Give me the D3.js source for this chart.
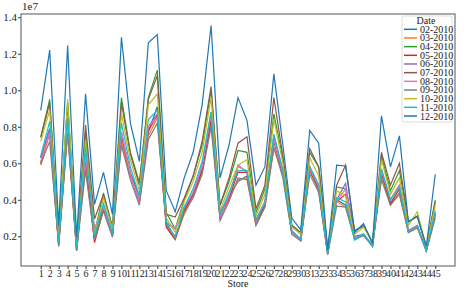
<!DOCTYPE html>
<html>
<head>
<meta charset="utf-8">
<script src="https://cdn.jsdelivr.net/npm/d3@7"></script>
<style>
  body { margin: 0; background: #fff; }
  text { font-family: "Liberation Serif", "DejaVu Serif", serif; fill: #222; }
</style>
</head>
<body>
<div id="canvas"></div>
<script>
"use strict"

/* Monthly sales per store (millions), one line per month */
let stores = [1,2,3,4,5,6,7,8,9,10,11,12,13,14,15,16,17,18,19,20,21,22,23,24,25,26,27,28,29,30,31,32,33,34,35,36,37,38,39,40,41,42,43,44,45];
let months = ["02-2010","03-2010","04-2010","05-2010","06-2010","07-2010","08-2010","09-2010","10-2010","11-2010","12-2010"];

let feb = [6.3,7.9,1.6,8.0,1.25,6.3,1.9,3.6,2.1,7.6,5.5,4.2,7.7,9.1,2.7,1.95,3.3,4.4,5.7,8.3,3.3,4.2,5.0,5.3,2.75,3.7,7.5,5.6,2.3,1.8,5.8,4.6,1.05,4.0,3.7,2.0,2.1,1.45,5.4,3.8,4.3,2.3,2.55,1.2,3.2];
let mar = [5.9,7.6,1.55,7.8,1.2,5.8,1.8,3.4,2.0,7.2,5.3,3.9,7.5,8.5,2.6,1.85,3.2,4.2,5.5,8.2,3.1,4.0,5.1,5.2,2.6,3.6,6.8,5.4,2.2,1.75,5.6,4.5,1.0,3.9,3.6,1.9,2.05,1.5,5.3,3.7,4.3,2.2,2.5,1.2,3.1];
let apr = [7.45,9.5,1.95,9.3,1.5,7.7,2.2,4.35,2.5,9.6,6.6,4.95,9.6,11.1,3.3,2.4,4.0,5.3,7.0,10.0,3.7,5.0,6.7,6.6,3.3,4.6,8.7,6.3,2.6,2.2,6.6,5.8,1.3,4.7,4.6,2.3,2.6,1.7,6.4,4.5,5.6,2.8,3.1,1.4,4.0];
let may = [6.0,7.8,1.45,7.9,1.25,6.3,1.65,3.5,2.05,7.5,5.4,3.9,7.8,8.6,2.5,1.82,3.4,4.3,5.6,8.4,3.0,4.1,5.5,5.5,2.8,3.7,7.2,5.4,2.2,1.8,5.6,4.6,1.1,3.9,4.3,1.85,2.1,1.5,5.5,3.8,4.6,2.3,2.6,1.2,3.2];
let jun = [6.3,7.9,1.65,8.1,1.3,6.5,2.4,3.6,2.1,7.7,5.4,3.9,8.0,8.7,2.7,2.4,3.5,4.4,5.9,8.8,3.1,4.2,5.9,5.5,2.9,3.9,7.4,5.5,2.2,1.8,5.8,4.8,1.05,4.0,4.9,1.9,2.1,1.45,5.6,4.0,4.8,2.3,2.55,1.25,3.3];
let jul = [7.4,9.3,1.95,9.3,1.45,8.1,2.95,4.3,2.5,9.3,6.5,4.8,9.5,10.8,3.2,3.05,4.1,5.3,7.2,10.2,3.7,5.2,7.1,7.45,3.5,4.8,9.6,6.4,2.6,2.2,6.8,5.8,1.3,4.8,5.9,2.3,2.55,1.65,6.6,4.8,6.0,2.8,3.1,1.45,3.9];
let aug = [6.1,7.7,1.6,8.1,1.25,6.4,2.4,3.6,2.1,7.7,5.4,3.9,8.0,8.5,2.8,2.45,3.6,4.4,5.8,8.7,3.0,4.2,5.8,5.6,2.8,3.9,7.3,5.5,2.2,1.8,5.7,4.7,1.1,3.9,4.6,1.9,2.1,1.5,5.6,4.0,4.8,2.3,2.55,1.25,3.3];
let sep = [5.95,7.2,1.5,7.6,1.2,5.6,1.8,3.4,1.95,7.0,5.1,3.7,7.3,8.2,2.6,2.0,3.3,4.1,5.4,8.0,2.85,3.9,5.2,5.1,2.6,3.6,6.9,5.2,2.1,1.75,5.4,4.4,1.0,3.65,3.6,1.8,2.05,1.45,5.1,3.7,4.4,2.2,2.45,1.2,3.0];
let oct = [7.2,8.9,1.85,9.5,1.4,7.3,2.1,4.1,2.4,8.7,6.2,4.5,9.2,9.8,3.0,2.2,3.9,5.0,6.6,9.6,3.4,4.7,5.9,6.2,3.1,4.3,8.4,6.0,2.5,2.1,6.3,5.3,1.25,4.5,4.2,2.1,2.5,1.7,6.2,4.3,5.2,2.6,3.35,1.4,3.7];
let nov = [6.4,8.3,1.65,8.5,1.35,6.9,2.0,3.8,2.2,8.2,5.8,4.2,8.4,8.9,2.8,1.9,3.6,4.6,6.1,8.8,3.2,4.4,5.6,5.6,2.9,3.8,7.6,5.6,2.3,1.85,5.8,4.8,1.05,4.1,3.9,1.8,2.15,1.5,5.7,4.0,4.7,2.3,2.6,1.2,3.4];
let dec = [8.9,12.2,2.6,12.45,1.95,9.8,3.75,5.5,3.2,12.9,8.2,6.1,12.6,13.05,4.5,3.35,5.2,6.6,9.2,13.55,5.2,7.0,9.6,8.35,4.8,5.8,10.9,7.0,3.0,2.35,7.8,7.1,1.25,5.9,5.85,2.2,2.7,1.6,8.6,5.8,7.5,2.8,3.1,1.45,5.4];

let yTicks = [2, 4, 6, 8, 10, 12, 14];

let series = [feb, mar, apr, may, jun, jul, aug, sep, oct, nov, dec];
let colors = ["#1f77b4","#ff7f0e","#2ca02c","#d62728","#9467bd","#8c564b","#e377c2","#7f7f7f","#bcbd22","#17becf","#1f77b4"];

/* Drawing size */
let svgWidth = 467;
let svgHeight = 288;
let margin = { top: 14, right: 12, bottom: 22, left: 21 };
let plotRight = svgWidth - margin.right;
let plotBottom = svgHeight - margin.bottom;

let svg = d3.select("#canvas")
    .append("svg")
    .attr("width", svgWidth)
    .attr("height", svgHeight);

/* Scales with 5% padding like matplotlib */
let xPad = (d3.max(stores) - d3.min(stores)) * 0.05;
let xScale = d3.scaleLinear()
    .domain([d3.min(stores) - xPad, d3.max(stores) + xPad])
    .range([margin.left, plotRight]);

let yMin = d3.min(series, function(s) { return d3.min(s); });
let yMax = d3.max(series, function(s) { return d3.max(s); });
let yPad = (yMax - yMin) * 0.05;
let yScale = d3.scaleLinear()
    .domain([yMin - yPad, yMax + yPad])
    .range([plotBottom, margin.top]);

/* Lines */
let line = d3.line()
    .x(function(d, i) { return xScale(stores[i]); })
    .y(function(d) { return yScale(d); });

svg.append("g")
    .selectAll("path")
    .data(series)
    .join("path")
    .attr("d", line)
    .attr("fill", "none")
    .attr("stroke", function(d, i) { return colors[i]; })
    .attr("stroke-width", 1.2);

/* Axes */
let xAxis = d3.axisBottom(xScale)
    .tickValues(stores)
    .tickSize(3)
    .tickFormat(d3.format("d"));
let gx = svg.append("g")
    .attr("transform", "translate(0," + plotBottom + ")")
    .call(xAxis);
gx.select(".domain").remove();
gx.selectAll("line").attr("stroke", "#333");
gx.selectAll("text")
    .attr("y", 4)
    .attr("dy", "0.71em")
    .style("font-size", "10px");

let yAxis = d3.axisLeft(yScale)
    .tickValues(yTicks)
    .tickSize(3)
    .tickFormat(function(v) { return (v / 10).toFixed(1); });
let gy = svg.append("g")
    .attr("transform", "translate(" + margin.left + ",0)")
    .call(yAxis);
gy.select(".domain").remove();
gy.selectAll("line").attr("stroke", "#333");
gy.selectAll("text")
    .attr("x", -4)
    .style("font-size", "11px");

/* Frame */
svg.append("rect")
    .attr("x", margin.left)
    .attr("y", margin.top)
    .attr("width", plotRight - margin.left)
    .attr("height", plotBottom - margin.top)
    .attr("fill", "none")
    .attr("stroke", "#555")
    .attr("stroke-width", 1);

/* Offset text and axis label */
svg.append("text")
    .attr("x", margin.left + 1)
    .attr("y", 10)
    .style("font-size", "11px")
    .text("1e7");

svg.append("text")
    .attr("x", (margin.left + plotRight) / 2)
    .attr("y", 287)
    .attr("text-anchor", "middle")
    .style("font-size", "10px")
    .text("Store");

/* Legend */
let legendX = 402;
let legendY = 16;
let rowGap = 8.67;

svg.append("rect")
    .attr("x", legendX)
    .attr("y", legendY)
    .attr("width", 50)
    .attr("height", 106)
    .attr("rx", 2)
    .attr("fill", "white")
    .attr("fill-opacity", 0.85)
    .attr("stroke", "#ddd");

svg.append("text")
    .attr("x", legendX + 24)
    .attr("y", legendY + 7.5)
    .attr("text-anchor", "middle")
    .style("font-size", "10px")
    .text("Date");

for (let i = 0; i < months.length; i++) {
    let rowY = 29.3 + i * rowGap;
    svg.append("line")
        .attr("x1", legendX + 2)
        .attr("x2", legendX + 15)
        .attr("y1", rowY)
        .attr("y2", rowY)
        .attr("stroke", colors[i])
        .attr("stroke-width", 1.5);
    svg.append("text")
        .attr("x", legendX + 18)
        .attr("y", rowY)
        .attr("dy", "0.35em")
        .style("font-size", "10px")
        .text(months[i]);
}
</script>
</body>
</html>
